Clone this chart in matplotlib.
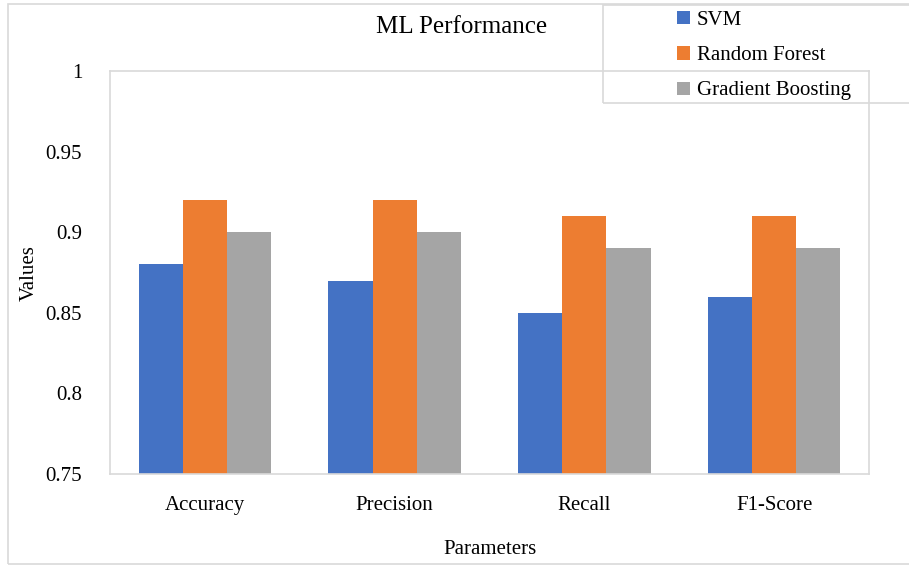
import numpy as np
import matplotlib.pyplot as plt
from matplotlib.patches import Rectangle

categories = ["Accuracy", "Precision", "Recall", "F1-Score"]
svm = [0.88, 0.87, 0.85, 0.86]
random_forest = [0.92, 0.92, 0.91, 0.91]
gradient_boosting = [0.90, 0.90, 0.89, 0.89]
series_names = ["SVM", "Random Forest", "Gradient Boosting"]
colors = ["#4472C4", "#ED7D31", "#A5A5A5"]
yticks = [0.75, 0.8, 0.85, 0.9, 0.95, 1.0]
ytick_labels = ["0.75", "0.8", "0.85", "0.9", "0.95", "1"]

plt.rcParams['font.family'] = ['Liberation Serif', 'DejaVu Serif']
fs = 15

W, H = 909, 565
fig = plt.figure(figsize=(W / 100, H / 100), dpi=100)
ax = fig.add_axes([110 / W, 1 - 474 / H, (869 - 110) / W, (474 - 71) / H])

# outer chart frame and legend box
fig.patches.append(Rectangle((8 / W, 1 - 564 / H), 1.2, (564 - 4) / H, transform=fig.transFigure,
                             fill=False, edgecolor="#d9d9d9", linewidth=1.2, zorder=0))
fig.patches.append(Rectangle((603 / W, 1 - 103 / H), 0.5, (103 - 5) / H, transform=fig.transFigure,
                             fill=False, edgecolor="#d9d9d9", linewidth=1.2, zorder=0))

x = np.arange(len(categories))
w = 0.233
for i, vals in enumerate([svm, random_forest, gradient_boosting]):
    ax.bar(x + (i - 1) * w, vals, w, color=colors[i], label=series_names[i], zorder=2)

ax.set_xlim(-0.5, len(categories) - 0.5)
ax.set_ylim(0.75, 1.0)
ax.set_yticks(yticks)
ax.set_yticklabels(ytick_labels, fontsize=fs)
ax.set_xticks(x)
ax.set_xticklabels(categories, fontsize=fs)
ax.tick_params(axis='both', length=0)
ax.tick_params(axis='y', pad=20)
ax.tick_params(axis='x', pad=16)
for s in ax.spines.values():
    s.set_color("#d9d9d9")
    s.set_linewidth(1.2)

fig.text(29 / W, 1 - 273 / H, "Values", rotation=90, ha='center', va='center', fontsize=fs)
fig.text(490 / W, 1 - 549 / H, "Parameters", ha='center', va='center', fontsize=fs)
fig.text(462 / W, 1 - 27 / H, "ML Performance", ha='center', va='center', fontsize=18)

fig.legend(loc='upper left', bbox_to_anchor=(677 / W, 1 - 11 / H), frameon=False, fontsize=fs,
           handlelength=0.6, handleheight=0.6, handletextpad=0.35, labelspacing=0.78,
           borderpad=0, borderaxespad=0)

fig.savefig("out.png", dpi=100)
